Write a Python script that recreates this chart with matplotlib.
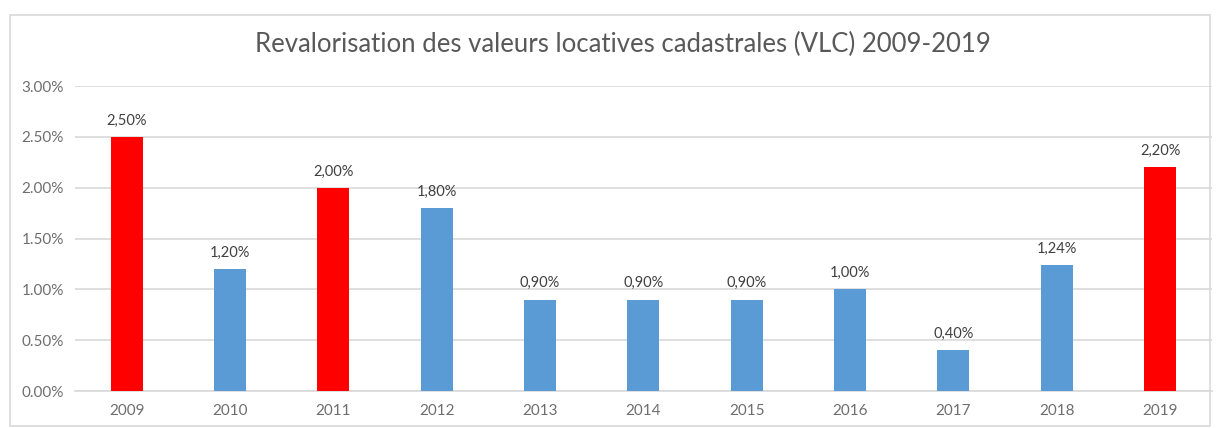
import matplotlib.pyplot as plt
from matplotlib.patches import Rectangle

years = ["2009", "2010", "2011", "2012", "2013", "2014", "2015", "2016", "2017", "2018", "2019"]
values = [2.50, 1.20, 2.00, 1.80, 0.90, 0.90, 0.90, 1.00, 0.40, 1.24, 2.20]
highlight = [True, False, True, False, False, False, False, False, False, False, True]
labels = ["2,50%", "1,20%", "2,00%", "1,80%", "0,90%", "0,90%", "0,90%", "1,00%", "0,40%", "1,24%", "2,20%"]
yticks = [0.0, 0.5, 1.0, 1.5, 2.0, 2.5, 3.0]

plt.rcParams['font.family'] = ['Lato', 'DejaVu Sans']

fig = plt.figure(figsize=(12.19, 4.28), dpi=100)
ax = fig.add_axes([0.0615, 0.0864, 0.9325, 0.7126])

colors = ["#FF0000" if h else "#5B9BD5" for h in highlight]
x = list(range(len(years)))
bars = ax.bar(x, values, width=0.31, color=colors, zorder=3)

for xi, v, lab in zip(x, values, labels):
    ax.text(xi, v + 0.09, lab, ha="center", va="bottom", fontsize=10.5, color="#404040")

ax.set_xlim(-0.5, 10.5)
ax.set_ylim(0, 3.0)
ax.set_yticks(yticks)
ax.set_yticklabels(["%.2f%%" % t for t in yticks])
ax.set_xticks(x)
ax.set_xticklabels(years)
ax.tick_params(axis="both", length=0, colors="#6E6E6E", labelsize=11)
ax.tick_params(axis="x", pad=9)
ax.tick_params(axis="y", pad=8)
ax.grid(axis="y", color="#D9D9D9", linewidth=1.2, zorder=0)
for s in ["top", "right", "left"]:
    ax.spines[s].set_visible(False)
ax.spines["bottom"].set_color("#D9D9D9")
ax.spines["bottom"].set_linewidth(1.2)

fig.text(0.511, 0.895, "Revalorisation des valeurs locatives cadastrales (VLC) 2009-2019",
         ha="center", va="center", fontsize=18.5, color="#595959")

fig.patches.append(Rectangle((0.008, 0.005), 0.985, 0.96, transform=fig.transFigure,
                             fill=False, edgecolor="#D9D9D9", linewidth=1.2))

plt.savefig("out.png", dpi=100)
